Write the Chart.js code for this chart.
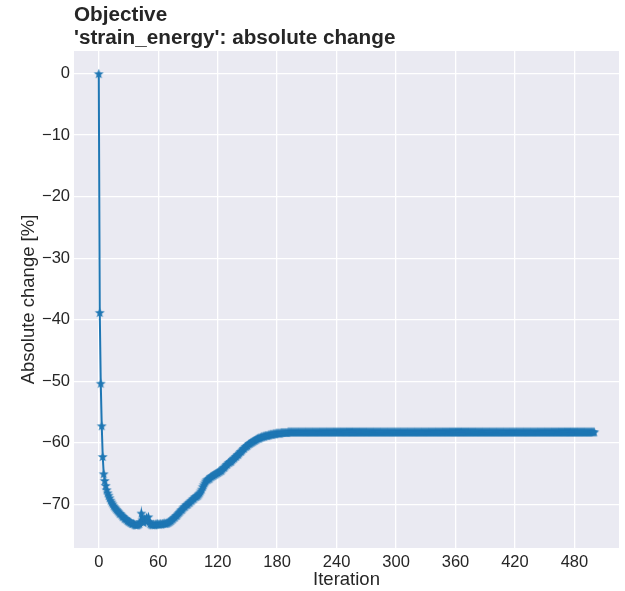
<!DOCTYPE html>
<html>
<head>
<meta charset="utf-8">
<script src="https://cdn.jsdelivr.net/npm/chart.js@4"></script>
<style>
  html, body { margin: 0; padding: 0; background: #fff; }
</style>
</head>
<body>
<canvas id="myChart" width="625" height="591"></canvas>
<script>
const titleLines = ["Objective", "'strain_energy': absolute change"];
const xLabel = "Iteration";
const yLabel = "Absolute change [%]";
const xTicks = [0, 60, 120, 180, 240, 300, 360, 420, 480];
const yTicks = [0, -10, -20, -30, -40, -50, -60, -70];

// absolute change per iteration (index = iteration)
const change = [
  0, -38.8, -50.3, -57.2, -62.2, -65.0, -66.1, -66.9, -67.6, -68.1,         // 0
  -68.5, -68.9, -69.3, -69.6, -69.9, -70.2, -70.4, -70.6, -70.8, -71.0,     // 10
  -71.2, -71.4, -71.5, -71.7, -71.9, -72.0, -72.2, -72.3, -72.4, -72.6,     // 20
  -72.7, -72.8, -72.9, -73.0, -73.1, -73.1, -73.2, -73.3, -73.3, -73.3,     // 30
  -73.2, -73.1, -72.8, -71.4, -72.5, -72.9, -72.3, -72.6, -72.1, -72.7,     // 40
  -72.0, -72.8, -73.1, -73.2, -73.3, -73.2, -73.3, -73.2, -73.2, -73.1,     // 50
  -73.2, -73.2, -73.1, -73.2, -73.1, -73.1, -73.0, -73.1, -73.0, -73.0,     // 60
  -72.9, -72.8, -72.7, -72.6, -72.4, -72.3, -72.1, -72.0, -71.8, -71.7,     // 70
  -71.5, -71.3, -71.1, -70.9, -70.8, -70.6, -70.4, -70.3, -70.1, -70.0,     // 80
  -69.9, -69.7, -69.6, -69.4, -69.3, -69.1, -69.0, -68.8, -68.7, -68.6,     // 90
  -68.5, -68.3, -68.1, -67.8, -67.5, -67.1, -66.8, -66.5, -66.2, -66.0,     // 100
  -65.9, -65.8, -65.7, -65.5, -65.4, -65.3, -65.2, -65.1, -65.0, -64.9,     // 110
  -64.8, -64.7, -64.6, -64.5, -64.4, -64.2, -64.0, -63.9, -63.7, -63.5,     // 120
  -63.4, -63.2, -63.1, -63.0, -62.9, -62.7, -62.5, -62.4, -62.2, -62.1,     // 130
  -61.9, -61.8, -61.6, -61.4, -61.3, -61.1, -60.9, -60.8, -60.6, -60.5,     // 140
  -60.4, -60.2, -60.1, -60.0, -59.9, -59.8, -59.7, -59.6, -59.5, -59.4,     // 150
  -59.3, -59.2, -59.2, -59.1, -59.0, -59.0, -58.9, -58.9, -58.8, -58.8,     // 160
  -58.8, -58.7, -58.7, -58.6, -58.6, -58.6, -58.5, -58.5, -58.5, -58.4,     // 170
  -58.4, -58.4, -58.4, -58.4, -58.3, -58.3, -58.3, -58.3, -58.3, -58.3,     // 180
  -58.3, -58.2, -58.2, -58.2, -58.2, -58.2, -58.2, -58.2, -58.2, -58.2,     // 190
  -58.2, -58.2, -58.2, -58.2, -58.2, -58.2, -58.2, -58.2, -58.2, -58.2,     // 200
  -58.2, -58.2, -58.2, -58.2, -58.2, -58.2, -58.2, -58.2, -58.2, -58.2,     // 210
  -58.2, -58.2, -58.2, -58.2, -58.2, -58.2, -58.2, -58.2, -58.2, -58.2,     // 220
  -58.2, -58.2, -58.2, -58.2, -58.2, -58.2, -58.2, -58.2, -58.2, -58.2,     // 230
  -58.2, -58.2, -58.2, -58.2, -58.2, -58.2, -58.2, -58.2, -58.2, -58.2,     // 240
  -58.2, -58.2, -58.2, -58.2, -58.2, -58.2, -58.2, -58.2, -58.2, -58.2,     // 250
  -58.2, -58.2, -58.2, -58.2, -58.2, -58.2, -58.2, -58.2, -58.2, -58.2,     // 260
  -58.2, -58.2, -58.2, -58.2, -58.2, -58.2, -58.2, -58.2, -58.2, -58.2,     // 270
  -58.2, -58.2, -58.2, -58.2, -58.2, -58.2, -58.2, -58.2, -58.2, -58.2,     // 280
  -58.2, -58.2, -58.2, -58.2, -58.2, -58.2, -58.2, -58.2, -58.2, -58.2,     // 290
  -58.2, -58.2, -58.2, -58.2, -58.2, -58.2, -58.2, -58.2, -58.2, -58.2,     // 300
  -58.2, -58.2, -58.2, -58.2, -58.2, -58.2, -58.2, -58.2, -58.2, -58.2,     // 310
  -58.2, -58.2, -58.2, -58.2, -58.2, -58.2, -58.2, -58.2, -58.2, -58.2,     // 320
  -58.2, -58.2, -58.2, -58.2, -58.2, -58.2, -58.2, -58.2, -58.2, -58.2,     // 330
  -58.2, -58.2, -58.2, -58.2, -58.2, -58.2, -58.2, -58.2, -58.2, -58.2,     // 340
  -58.2, -58.2, -58.2, -58.2, -58.2, -58.2, -58.2, -58.2, -58.2, -58.2,     // 350
  -58.2, -58.2, -58.2, -58.2, -58.2, -58.2, -58.2, -58.2, -58.2, -58.2,     // 360
  -58.2, -58.2, -58.2, -58.2, -58.2, -58.2, -58.2, -58.2, -58.2, -58.2,     // 370
  -58.2, -58.2, -58.2, -58.2, -58.2, -58.2, -58.2, -58.2, -58.2, -58.2,     // 380
  -58.2, -58.2, -58.2, -58.2, -58.2, -58.2, -58.2, -58.2, -58.2, -58.2,     // 390
  -58.2, -58.2, -58.2, -58.2, -58.2, -58.2, -58.2, -58.2, -58.2, -58.2,     // 400
  -58.2, -58.2, -58.2, -58.2, -58.2, -58.2, -58.2, -58.2, -58.2, -58.2,     // 410
  -58.2, -58.2, -58.2, -58.2, -58.2, -58.2, -58.2, -58.2, -58.2, -58.2,     // 420
  -58.2, -58.2, -58.2, -58.2, -58.2, -58.2, -58.2, -58.2, -58.2, -58.2,     // 430
  -58.2, -58.2, -58.2, -58.2, -58.2, -58.2, -58.2, -58.2, -58.2, -58.2,     // 440
  -58.2, -58.2, -58.2, -58.2, -58.2, -58.2, -58.2, -58.2, -58.2, -58.2,     // 450
  -58.2, -58.2, -58.2, -58.2, -58.2, -58.2, -58.2, -58.2, -58.2, -58.2,     // 460
  -58.2, -58.2, -58.2, -58.2, -58.2, -58.2, -58.2, -58.2, -58.2, -58.2,     // 470
  -58.2, -58.2, -58.2, -58.2, -58.2, -58.2, -58.2, -58.2, -58.2, -58.2,     // 480
  -58.2, -58.2, -58.2, -58.2, -58.2, -58.2, -58.2, -58.2, -58.2, -58.2,     // 490
  -58.2                                                                      // 500
];

const lineColor = '#1f77b4';
const textColor = '#262626';
Chart.defaults.font.family = "'Liberation Sans', Arial, sans-serif";
Chart.defaults.color = textColor;

// filled star marker like matplotlib '*'
function makeStar(size, color) {
  const c = document.createElement('canvas');
  c.width = size; c.height = size;
  const g = c.getContext('2d');
  const cx = size / 2, cy = size / 2, R = size / 2 - 0.3, r = R * 0.42;
  g.beginPath();
  for (let k = 0; k < 10; k++) {
    const rad = k % 2 === 0 ? R : r;
    const a = -Math.PI / 2 + k * Math.PI / 5;
    const px = cx + rad * Math.cos(a), py = cy + rad * Math.sin(a) + 0.5;
    if (k === 0) g.moveTo(px, py); else g.lineTo(px, py);
  }
  g.closePath();
  g.fillStyle = color;
  g.fill();
  return c;
}
const star = makeStar(11, lineColor);

const bgPlugin = {
  id: 'bg',
  beforeDraw(chart) {
    const {ctx, chartArea: a} = chart;
    ctx.save();
    ctx.fillStyle = '#eaeaf2';
    ctx.fillRect(a.left, a.top, a.right - a.left, a.bottom - a.top);
    ctx.restore();
  }
};

const titlePlugin = {
  id: 'title2',
  afterDraw(chart) {
    const {ctx, chartArea: a} = chart;
    ctx.save();
    ctx.fillStyle = textColor;
    ctx.font = "bold 20.7px 'Liberation Sans', Arial, sans-serif";
    ctx.textBaseline = 'alphabetic';
    ctx.textAlign = 'left';
    ctx.fillText(titleLines[0], a.left, 21);
    ctx.fillText(titleLines[1], a.left, 44);
    ctx.restore();
  }
};

const fmt = v => v < 0 ? '\u2212' + Math.abs(v) : String(v);

const ctx = document.getElementById('myChart').getContext('2d');
const myChart = new Chart(ctx, {
  type: 'scatter',
  data: {
    datasets: [{
      data: change.map((v, i) => ({x: i, y: v})),
      showLine: true,
      borderColor: lineColor,
      backgroundColor: lineColor,
      borderWidth: 2,
      pointStyle: star,
      pointRadius: 4,
      pointHoverRadius: 4
    }]
  },
  options: {
    responsive: false,
    animation: false,
    devicePixelRatio: 1,
    layout: { padding: { top: 51, right: 3, left: 0, bottom: 0 } },
    plugins: { legend: { display: false }, tooltip: { enabled: false } },
    scales: {
      x: {
        type: 'linear',
        min: -25,
        max: 525,
        afterBuildTicks: s => { s.ticks = xTicks.map(v => ({value: v})); },
        afterFit: s => { s.height = 43; },
        grid: { color: '#ffffff', lineWidth: 1.3, drawTicks: false },
        border: { display: false },
        ticks: { padding: 5, font: { size: 16.5 }, color: textColor, callback: fmt, maxRotation: 0 },
        title: { display: true, text: xLabel, font: { size: 18.5 }, color: textColor, padding: { top: 0, bottom: 0 } }
      },
      y: {
        type: 'linear',
        min: -77.07,
        max: 3.67,
        afterBuildTicks: s => { s.ticks = yTicks.map(v => ({value: v})); },
        afterFit: s => { s.width = 74; },
        grid: { color: '#ffffff', lineWidth: 1.3, drawTicks: false },
        border: { display: false },
        ticks: { padding: 4, font: { size: 16.5 }, color: textColor, callback: fmt },
        title: { display: true, text: yLabel, font: { size: 18.5 }, color: textColor, padding: { top: 18, bottom: 0 } }
      }
    }
  },
  plugins: [bgPlugin, titlePlugin]
});
</script>
</body>
</html>
